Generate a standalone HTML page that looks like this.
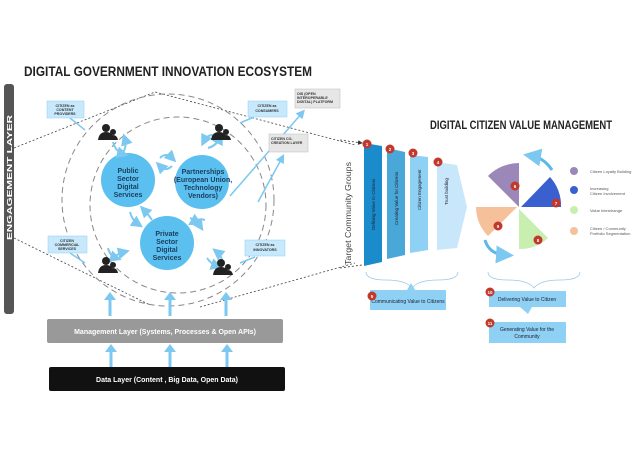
<!DOCTYPE html>
<html><head><meta charset="utf-8"><style>
html,body{margin:0;padding:0;background:#fff;}
svg{display:block;font-family:"Liberation Sans",sans-serif;}
</style></head><body>
<svg width="640" height="452" viewBox="0 0 640 452" xmlns="http://www.w3.org/2000/svg">
<defs>
<marker id="ah" markerWidth="6" markerHeight="6" refX="3" refY="3" orient="auto"><path d="M0,0 L6,3 L0,6 Z" fill="#7cc8f0"/></marker>
<marker id="ahd" markerWidth="6" markerHeight="6" refX="5" refY="3" orient="auto"><path d="M0,0 L6,3 L0,6 Z" fill="#333"/></marker>
<g id="ua"><rect x="-1.5" y="6" width="3" height="18"/><path d="M-6,8 L0,0 L6,8z"/></g>
</defs>
<text x="24" y="76" font-size="13.5" font-weight="bold" fill="#222" textLength="288" lengthAdjust="spacingAndGlyphs">DIGITAL GOVERNMENT INNOVATION ECOSYSTEM</text>
<rect x="4" y="84" width="10" height="230" rx="3" fill="#555"/>
<text transform="translate(12,240) rotate(-90)" font-size="7.5" font-weight="bold" fill="#fff" textLength="125" lengthAdjust="spacingAndGlyphs">ENGAGEMENT LAYER</text>
<g stroke="#444" stroke-width="0.8" stroke-dasharray="2,2" fill="none">
<path d="M14,148 L155,92 L355,145"/>
<path d="M14,238 L150,305"/>
<path d="M200,307 L355,263"/>
</g>
<g stroke="#888" stroke-width="1" stroke-dasharray="6,4" fill="none">
<circle cx="168" cy="200" r="106"/>
<circle cx="178" cy="205" r="88"/>
</g>
<circle cx="128" cy="180" r="27" fill="#5bc0f0"/>
<circle cx="202" cy="182" r="27" fill="#5bc0f0"/>
<circle cx="167" cy="243" r="27" fill="#5bc0f0"/>
<g font-size="7" font-weight="bold" fill="#1a3d5c" text-anchor="middle">
<text x="128" y="173">Public</text><text x="128" y="181">Sector</text><text x="128" y="189">Digital</text><text x="128" y="197">Services</text>
<text x="203" y="174">Partnerships</text><text x="203" y="182">(European Union,</text><text x="203" y="190">Technology</text><text x="203" y="198">Vendors)</text>
<text x="167" y="236">Private</text><text x="167" y="244">Sector</text><text x="167" y="252">Digital</text><text x="167" y="260">Services</text>
</g>
<g stroke="#7cc8f0" stroke-width="2" fill="none" marker-end="url(#ah)">
<path d="M113,142 q3,10 10,12"/><path d="M123,153 q4,-8 2,-14"/>
<path d="M160,158 q6,-6 12,0"/><path d="M172,166 q-6,6 -12,0"/>
<path d="M213,135 q-6,0 -9,6"/><path d="M208,148 q8,-2 12,-10"/>
<path d="M130,212 q2,8 8,12"/><path d="M152,220 q-4,-6 -8,-10"/>
<path d="M190,218 q6,2 10,8"/><path d="M205,220 q-6,-2 -12,2"/>
<path d="M108,248 q2,8 8,10"/><path d="M112,260 q4,-6 12,-8"/>
<path d="M207,258 q4,6 10,8"/><path d="M222,262 q0,-6 -5,-10"/>
</g>
<g fill="#222">
<g transform="translate(98,124)"><circle cx="8" cy="4" r="4"/><path d="M0,16 q1,-8 8,-8 q7,0 8,8z"/><circle cx="15" cy="8" r="3"/><path d="M11,16 q1,-5 4,-5 q4,0 5,5z"/></g>
<g transform="translate(211,124)"><circle cx="8" cy="4" r="4"/><path d="M0,16 q1,-8 8,-8 q7,0 8,8z"/><circle cx="15" cy="8" r="3"/><path d="M11,16 q1,-5 4,-5 q4,0 5,5z"/></g>
<g transform="translate(98,257)"><circle cx="8" cy="4" r="4"/><path d="M0,16 q1,-8 8,-8 q7,0 8,8z"/><circle cx="15" cy="8" r="3"/><path d="M11,16 q1,-5 4,-5 q4,0 5,5z"/></g>
<g transform="translate(213,259)"><circle cx="8" cy="4" r="4"/><path d="M0,16 q1,-8 8,-8 q7,0 8,8z"/><circle cx="15" cy="8" r="3"/><path d="M11,16 q1,-5 4,-5 q4,0 5,5z"/></g>
</g>
<g stroke="#7cc8f0" stroke-width="1.5" fill="none">
<path d="M70,118 L85,130"/><path d="M254,117 L240,123"/>
<path d="M230,196 L302,113" marker-end="url(#ah)"/><path d="M258,202 L282,158" marker-end="url(#ah)"/>
<path d="M70,253 L85,263"/><path d="M255,257 L240,263"/>
</g>
<g fill="#c7e9fb" stroke="#8fd0f5" stroke-width="0.5">
<rect x="47" y="101" width="37" height="17"/><rect x="248" y="101" width="39" height="16"/>
<rect x="48" y="236" width="39" height="17"/><rect x="245" y="240" width="40" height="16"/>
</g>
<g fill="#e6e6e6" stroke="#bbb" stroke-width="0.5">
<rect x="295" y="89" width="45" height="19"/><rect x="269" y="134" width="39" height="18"/>
</g>
<g font-size="3.6" font-weight="bold" fill="#333" text-anchor="middle">
<text x="65" y="107">CITIZEN as</text><text x="65" y="111">CONTENT</text><text x="65" y="115">PROVIDERS</text>
<text x="267" y="107">CITIZEN as</text><text x="267" y="112">CONSUMERS</text>
<text x="67" y="242">CITIZEN</text><text x="67" y="246">COMMERCIAL</text><text x="67" y="250">SERVICES</text>
<text x="265" y="246">CITIZEN as</text><text x="265" y="251">INNOVATORS</text>
</g>
<g font-size="3.6" font-weight="bold" fill="#333">
<text x="297" y="95">OIS (OPEN</text><text x="297" y="99">INTEROPERABLE</text><text x="297" y="103">DIGITAL) PLATFORM</text>
<text x="271" y="140">CITIZEN CO-</text><text x="271" y="144">CREATION LAYER</text>
</g>
<g fill="#7cc8f0">
<use href="#ua" x="110" y="292"/><use href="#ua" x="170" y="292"/><use href="#ua" x="226" y="292"/>
<use href="#ua" x="111" y="344"/><use href="#ua" x="170" y="344"/><use href="#ua" x="227" y="344"/>
</g>
<rect x="47" y="319" width="236" height="24" rx="2" fill="#999"/>
<text x="165" y="334" font-size="7" font-weight="bold" fill="#fff" text-anchor="middle">Management Layer (Systems, Processes &amp; Open APIs)</text>
<rect x="49" y="367" width="236" height="24" rx="2" fill="#111"/>
<text x="167" y="382" font-size="7" font-weight="bold" fill="#fff" text-anchor="middle">Data Layer (Content , Big Data, Open Data)</text>

<text x="430" y="129" font-size="11.5" font-weight="bold" fill="#222" textLength="182" lengthAdjust="spacingAndGlyphs">DIGITAL CITIZEN VALUE MANAGEMENT</text>
<text transform="translate(351,265) rotate(-90)" font-size="8" fill="#444" textLength="103" lengthAdjust="spacingAndGlyphs">Target Community Groups</text>
<path d="M340,140 L362,143" stroke="#333" stroke-width="0.8" stroke-dasharray="2,2" marker-end="url(#ahd)"/>
<path d="M340,268 L362,265" stroke="#333" stroke-width="0.8" stroke-dasharray="2,2"/>
<polygon points="364,143 382,146 382,262 364,266" fill="#1a8ccc"/>
<polygon points="387,148 405,152 405,255 387,259" fill="#4aa8d8"/>
<polygon points="410,155 428,157 428,250 410,253" fill="#8fd0f5"/>
<polygon points="437,162 457,165 467,207 457,248 437,250" fill="#c9e7fb"/>
<g font-size="4.5" fill="#223">
<text transform="translate(375,230) rotate(-90)">Defining Value to Citizens</text>
<text transform="translate(398,225) rotate(-90)">Creating Value for Citizens</text>
<text transform="translate(421,210) rotate(-90)">Citizen Engagement</text>
<text transform="translate(448,205) rotate(-90)">Trust building</text>
</g>
<path d="M366,272 q0,8 20,8 q20,0 26,8 q6,-8 26,-8 q20,0 20,-8" stroke="#9cc8e6" fill="none" stroke-width="0.8"/>
<path d="M488,272 q0,8 20,8 q20,0 26,8 q6,-8 26,-8 q20,0 20,-8" stroke="#9cc8e6" fill="none" stroke-width="0.8"/>
<path d="M407,290 L411,283 L415,290z" fill="#8fd0f5"/>
<rect x="370" y="290" width="76" height="20" fill="#8fd0f5"/>
<text x="408" y="303" font-size="5" fill="#223" text-anchor="middle">Communicating Value to Citizens</text>
<rect x="489" y="291" width="77" height="16" fill="#8fd0f5"/>
<path d="M520,307 L528,314 L532,307z" fill="#8fd0f5"/>
<text x="527" y="301" font-size="5" fill="#223" text-anchor="middle">Delivering Value to Citizen</text>
<rect x="489" y="322" width="77" height="21" fill="#8fd0f5"/>
<text x="527" y="331" font-size="5" fill="#223" text-anchor="middle">Generating Value for the</text>
<text x="527" y="338" font-size="5" fill="#223" text-anchor="middle">Community</text>
<path d="M519,207 L488,176 A44,44 0 0 1 519,163 Z" fill="#9b87b8"/>
<path d="M521,207 L550,177 A42,42 0 0 1 561,207 Z" fill="#3a5fcf"/>
<path d="M519,209 L519,249 A40,40 0 0 0 548,238 Z" fill="#c8efb0"/>
<path d="M517,207 L476,207 A42,42 0 0 0 488,236 Z" fill="#f5c09a"/>
<g stroke="#5bb8e8" stroke-width="3" fill="none" marker-end="url(#ah)">
<path d="M552,170 q-8,-12 -20,-14"/><path d="M485,240 q4,14 20,15"/>
</g>
<g fill="#c0392b">
<circle cx="367" cy="144" r="4.5"/><circle cx="390" cy="149" r="4.5"/><circle cx="413" cy="153" r="4.5"/><circle cx="438" cy="162" r="4.5"/>
<circle cx="515" cy="186" r="4.5"/><circle cx="556" cy="203" r="4.5"/><circle cx="538" cy="240" r="4.5"/><circle cx="498" cy="226" r="4.5"/>
<circle cx="372" cy="296" r="4.5"/><circle cx="490" cy="292" r="4.5"/><circle cx="490" cy="323" r="4.5"/>
</g>
<g font-size="4.5" fill="#fff" text-anchor="middle" font-weight="bold">
<text x="367" y="146">1</text><text x="390" y="151">2</text><text x="413" y="155">3</text><text x="438" y="164">4</text>
<text x="515" y="188">6</text><text x="556" y="205">7</text><text x="538" y="242">8</text><text x="498" y="228">9</text>
<text x="372" y="298">5</text><text x="490" y="294">10</text><text x="490" y="325">11</text>
</g>
<circle cx="574" cy="171" r="4" fill="#9b87b8"/><circle cx="574" cy="190" r="4" fill="#3a5fcf"/>
<circle cx="574" cy="210" r="4" fill="#c8efb0"/><circle cx="574" cy="231" r="4" fill="#f5c09a"/>
<g font-size="4" fill="#555">
<text x="590" y="173">Citizen Loyalty Building</text>
<text x="590" y="190">Increasing</text><text x="590" y="195">Citizen Involvement</text>
<text x="590" y="212">Value Interchange</text>
<text x="590" y="230">Citizen / Community</text><text x="590" y="235">Portfolio Segmentation</text>
</g>
</svg>
</body></html>
